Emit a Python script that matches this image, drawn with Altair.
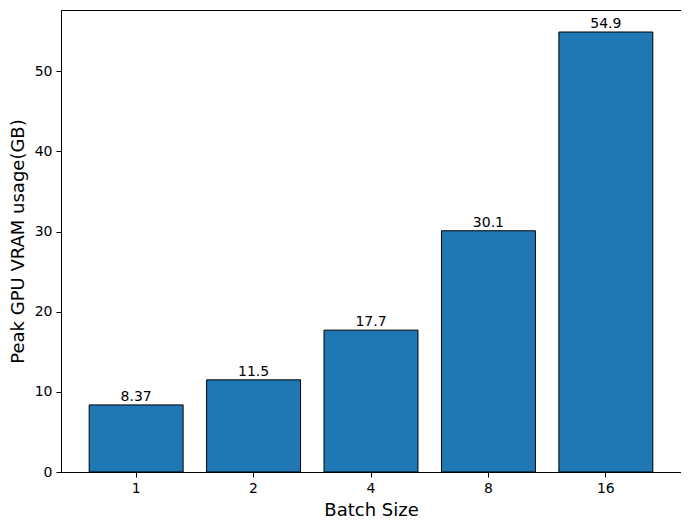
import altair as alt
import pandas as pd

batch_sizes = ["1", "2", "4", "8", "16"]
vram_gb = [8.37, 11.5, 17.7, 30.1, 54.9]
labels = ["8.37", "11.5", "17.7", "30.1", "54.9"]

df = pd.DataFrame({"batch": batch_sizes, "vram": vram_gb, "label": labels})

FONT = "DejaVu Sans"

x = alt.X(
    "batch:N",
    sort=batch_sizes,
    title="Batch Size",
    scale=alt.Scale(paddingInner=0.2, paddingOuter=0.24),
    axis=alt.Axis(
        labelAngle=0, labelFont=FONT, labelFontSize=14, labelColor="black",
        titleFont=FONT, titleFontSize=18, titleFontWeight="normal", titleColor="black",
        tickColor="black", tickSize=5, labelPadding=4, titlePadding=6,
        domainColor="black", grid=False,
    ),
)
y = alt.Y(
    "vram:Q",
    title="Peak GPU VRAM usage(GB)",
    scale=alt.Scale(domain=[0, 57.645], nice=False, zero=True),
    axis=alt.Axis(
        values=[0, 10, 20, 30, 40, 50], labelFont=FONT, labelFontSize=14, labelColor="black",
        titleFont=FONT, titleFontSize=18, titleFontWeight="normal", titleColor="black",
        tickColor="black", tickSize=5, labelPadding=4, titlePadding=7,
        domainColor="black", grid=False,
    ),
)

bars = alt.Chart(df).mark_bar(color="#1f77b4", stroke="black", strokeWidth=1).encode(x=x, y=y)
text = alt.Chart(df).mark_text(
    baseline="bottom", dy=-1, font=FONT, fontSize=14, color="black"
).encode(x=alt.X("batch:N", sort=batch_sizes), y="vram:Q", text="label:N")

chart = (
    alt.layer(bars, text)
    .properties(
        width=620, height=462,
        autosize=alt.AutoSizeParams(type="none"),
        padding={"left": 53, "top": 2, "right": 0, "bottom": 47},
        background="white",
    )
    .configure_view(stroke="black", strokeWidth=1)
)

chart.save("out.html", embed_options={"renderer": "svg", "actions": False})
